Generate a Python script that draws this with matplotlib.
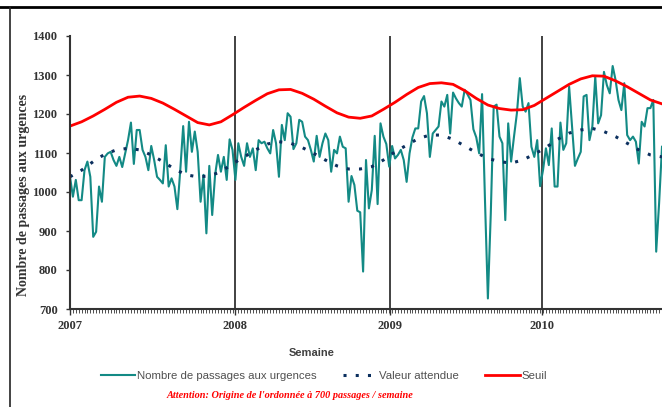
import numpy as np
import matplotlib.pyplot as plt
from matplotlib.lines import Line2D

# weekly number of emergency visits
passages = [
    1039, 988, 1031, 979, 979, 1056, 1078, 1039, 885, 898, 1014, 975, 1090, 1099, 1103, 1082,
    1067, 1090, 1064, 1099, 1133, 1178, 1072, 1159, 1159, 1108, 1090, 1056, 1118, 1082, 1039,
    1031, 1022, 1120, 1014, 1035, 1014, 956, 1056, 1169, 1052, 1180, 1103, 1155, 1103, 975,
    1044, 894, 1067, 941, 1044, 1095, 1052, 1090, 1031, 1135, 1108, 1031, 1125, 1090,
    1067, 1125, 1090, 1112, 1056, 1133, 1125, 1129, 1112, 1099, 1159, 1125, 1039,
    1172, 1133, 1202, 1193, 1110, 1125, 1185, 1180, 1142, 1133, 1108, 1078, 1144, 1090,
    1125, 1150,
    1133, 1052, 1108, 1099, 1142, 1116, 1112, 975, 1041, 1018, 952, 948, 796, 1082, 958, 1005,
    1144, 969, 1176, 1142, 1123, 1065, 1118, 1086, 1095, 1108, 1082, 1026, 1099, 1140,
    1163, 1163, 1232, 1246, 1202, 1090, 1150, 1159, 1168, 1232, 1219, 1249, 1150, 1255, 1240,
    1228, 1219, 1262, 1250, 1236, 1161, 1140, 1099, 1251, 979, 727, 945, 1219, 1224, 1142,
    1125, 928, 1176, 1078, 1142, 1202, 1292, 1219, 1206, 1228, 1116, 1090, 1133, 1015, 1056,
    1112, 1069, 1163, 1014, 1014, 1178, 1108, 1125, 1270, 1168, 1067, 1086, 1103, 1245,
    1249, 1133, 1168, 1296, 1176, 1197, 1308, 1274, 1253, 1323, 1287, 1236, 1210, 1279, 1146,
    1133, 1142, 1129, 1073, 1180, 1168, 1215, 1215, 1236, 847, 971, 1116,
]

# expected value and threshold, read every 4 weeks
attendue = [
    1039, 1056, 1078, 1097, 1108, 1112, 1108, 1095, 1078, 1059, 1044, 1039, 1041, 1052, 1072,
    1090, 1108, 1123, 1129, 1125, 1114, 1099, 1082, 1067, 1059, 1059, 1065, 1082, 1103, 1120,
    1137, 1146, 1146, 1135, 1118, 1101, 1086, 1078, 1074, 1082, 1097, 1114, 1135, 1151, 1159,
    1163, 1155, 1142, 1125, 1108, 1095, 1090,
]
seuil = [
    1169, 1180, 1195, 1212, 1230, 1243, 1246, 1240, 1228, 1212, 1195, 1178, 1172, 1180, 1198,
    1217, 1235, 1252, 1262, 1263, 1253, 1238, 1220, 1203, 1192, 1189, 1195, 1212, 1230, 1250,
    1268, 1278, 1280, 1276, 1260, 1240, 1223, 1214, 1210, 1211, 1222, 1240, 1258, 1276, 1290,
    1298, 1297, 1285, 1270, 1253, 1236, 1226,
]

annees = ["2007", "2008", "2009", "2010"]
debut_annee = [0, 56.8, 110.4, 162.5]  # week index where each year starts

semaines = np.arange(len(passages))
sem4 = semaines[::4]

fig = plt.figure(figsize=(6.62, 4.07), dpi=100)
ax = fig.add_axes([70 / 662, 1 - 309 / 407, 1 - 70 / 662, (309 - 36) / 407])

ax.plot(semaines, passages, color="#138a85", lw=1.5, label="Nombre de passages aux urgences")
ax.plot(sem4, attendue, color="#0b2f5e", lw=2.2, linestyle=(0, (1.0, 3.0)),
        dash_capstyle="butt", label="Valeur attendue")
ax.plot(sem4, seuil, color="#ff0000", lw=2.0, label="Seuil")

for x in debut_annee[1:]:
    ax.axvline(x, color="#333333", lw=1.3, zorder=0)

ax.set_xlim(0, len(passages) - 1)
ax.set_ylim(700, 1400)
ax.set_yticks(range(700, 1401, 100))
ax.set_xticks(debut_annee)
ax.set_xticklabels(annees)
ax.set_xticks(semaines, minor=True)

for s in ["top", "right"]:
    ax.spines[s].set_visible(False)
for s in ["left", "bottom"]:
    ax.spines[s].set_color("#333333")
    ax.spines[s].set_linewidth(1.5)

ax.tick_params(axis="y", direction="out", length=3, width=1, color="#333333", pad=6)
ax.tick_params(axis="x", which="major", direction="out", length=4, width=1,
               color="#333333", pad=4)
ax.tick_params(axis="x", which="minor", direction="out", length=3, width=0.6,
               color="#333333")
for lab in ax.get_xticklabels() + ax.get_yticklabels():
    lab.set_fontproperties("Liberation Serif")
    lab.set_fontweight("bold")
    lab.set_fontsize(9)
    lab.set_color("#333333")

fig.text(24 / 662, 1 - 195 / 407, "Nombre de passages aux urgences", rotation=90,
         ha="center", va="center", family="Liberation Serif", weight="bold",
         size=10, color="#333333")
fig.text(312 / 662, 1 - 353 / 407, "Semaine", ha="center", va="center",
         family="Liberation Sans", weight="bold", size=8, color="#404040")

fig.legend(loc="center", bbox_to_anchor=(324 / 662, 1 - 376 / 407), ncol=3,
           frameon=False, handlelength=3.0, handletextpad=0.2, columnspacing=2.3,
           prop=dict(family="Liberation Sans", size=8.2), labelcolor="#505050")

fig.text(290 / 662, 1 - 396 / 407,
         "Attention: Origine de l'ordonnée à 700 passages / semaine",
         ha="center", va="center", family="Liberation Serif", weight="bold",
         style="italic", size=7.4, color="#ff0000")

# outer frame edges
fig.add_artist(Line2D([0, 1], [1 - 6.5 / 407] * 2, color="black", lw=2))
fig.add_artist(Line2D([9.5 / 662] * 2, [0, 1 - 6.5 / 407], color="#222222", lw=1.2))

fig.savefig("out.png", dpi=100)
